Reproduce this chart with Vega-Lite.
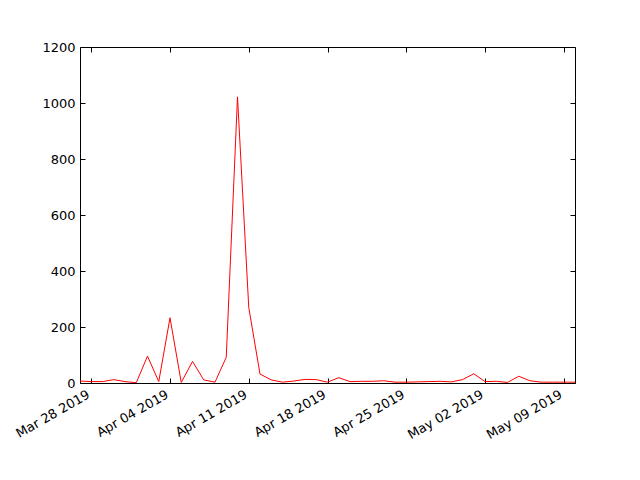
{
  "$schema": "https://vega.github.io/schema/vega-lite/v6.json",
  "width": 495,
  "height": 336,
  "autosize": {"type": "none"},
  "padding": {"left": 80, "top": 47, "right": 65, "bottom": 97},
  "background": "white",
  "config": {
    "view": {"stroke": "black", "strokeWidth": 1},
    "font": "DejaVu Sans",
    "axis": {"labelFont": "DejaVu Sans", "labelFontSize": 13, "labelColor": "black", "tickColor": "black", "domain": false, "grid": false, "title": null, "labelOverlap": false}
  },
  "data": {"values": [
    {"date": "2019-03-27", "count": 7},
    {"date": "2019-03-28", "count": 5},
    {"date": "2019-03-29", "count": 5},
    {"date": "2019-03-30", "count": 12},
    {"date": "2019-03-31", "count": 5},
    {"date": "2019-04-01", "count": 1},
    {"date": "2019-04-02", "count": 96},
    {"date": "2019-04-03", "count": 5},
    {"date": "2019-04-04", "count": 233},
    {"date": "2019-04-05", "count": 2},
    {"date": "2019-04-06", "count": 77},
    {"date": "2019-04-07", "count": 11},
    {"date": "2019-04-08", "count": 3},
    {"date": "2019-04-09", "count": 92},
    {"date": "2019-04-10", "count": 1022},
    {"date": "2019-04-11", "count": 270},
    {"date": "2019-04-12", "count": 32},
    {"date": "2019-04-13", "count": 11},
    {"date": "2019-04-14", "count": 3},
    {"date": "2019-04-15", "count": 7},
    {"date": "2019-04-16", "count": 13},
    {"date": "2019-04-17", "count": 12},
    {"date": "2019-04-18", "count": 3},
    {"date": "2019-04-19", "count": 19},
    {"date": "2019-04-20", "count": 5},
    {"date": "2019-04-21", "count": 6},
    {"date": "2019-04-22", "count": 6},
    {"date": "2019-04-23", "count": 8},
    {"date": "2019-04-24", "count": 3},
    {"date": "2019-04-25", "count": 3},
    {"date": "2019-04-26", "count": 4},
    {"date": "2019-04-27", "count": 5},
    {"date": "2019-04-28", "count": 6},
    {"date": "2019-04-29", "count": 4},
    {"date": "2019-04-30", "count": 12},
    {"date": "2019-05-01", "count": 33},
    {"date": "2019-05-02", "count": 5},
    {"date": "2019-05-03", "count": 6},
    {"date": "2019-05-04", "count": 2},
    {"date": "2019-05-05", "count": 24},
    {"date": "2019-05-06", "count": 8},
    {"date": "2019-05-07", "count": 3},
    {"date": "2019-05-08", "count": 3},
    {"date": "2019-05-09", "count": 3},
    {"date": "2019-05-10", "count": 3}
  ]},
  "layer": [
    {
      "mark": {"type": "line", "color": "#ff0000", "strokeWidth": 1, "clip": true},
      "encoding": {
        "x": {
          "field": "date", "type": "temporal",
          "scale": {"type": "utc", "domain": [{"year": 2019, "month": 3, "date": 27, "utc": true}, {"year": 2019, "month": 5, "date": 10, "utc": true}]},
          "axis": {
            "values": [
              {"year": 2019, "month": 3, "date": 28, "utc": true},
              {"year": 2019, "month": 4, "date": 4, "utc": true},
              {"year": 2019, "month": 4, "date": 11, "utc": true},
              {"year": 2019, "month": 4, "date": 18, "utc": true},
              {"year": 2019, "month": 4, "date": 25, "utc": true},
              {"year": 2019, "month": 5, "date": 2, "utc": true},
              {"year": 2019, "month": 5, "date": 9, "utc": true}
            ],
            "labelExpr": "utcFormat(datum.value, '%b %d %Y')",
            "labelAngle": -30,
            "labelAlign": "right",
            "labelBaseline": "top",
            "tickSize": -5,
            "labelPadding": 10,
            "labelOffset": -6
          }
        },
        "y": {
          "field": "count", "type": "quantitative",
          "scale": {"domain": [0, 1200], "nice": false, "zero": true},
          "axis": {"values": [0, 200, 400, 600, 800, 1000, 1200], "format": "d", "tickSize": -5, "labelPadding": 10}
        }
      }
    },
    {
      "mark": {"type": "line", "opacity": 0, "clip": true},
      "encoding": {
        "x": {
          "field": "date", "type": "temporal",
          "axis": {
            "orient": "top",
            "labels": false,
            "values": [
              {"year": 2019, "month": 3, "date": 28, "utc": true},
              {"year": 2019, "month": 4, "date": 4, "utc": true},
              {"year": 2019, "month": 4, "date": 11, "utc": true},
              {"year": 2019, "month": 4, "date": 18, "utc": true},
              {"year": 2019, "month": 4, "date": 25, "utc": true},
              {"year": 2019, "month": 5, "date": 2, "utc": true},
              {"year": 2019, "month": 5, "date": 9, "utc": true}
            ],
            "tickSize": -5
          }
        },
        "y": {
          "field": "count", "type": "quantitative",
          "axis": {"orient": "right", "labels": false, "values": [0, 200, 400, 600, 800, 1000, 1200], "tickSize": -5}
        }
      }
    }
  ],
  "resolve": {"axis": {"x": "independent", "y": "independent"}}
}
